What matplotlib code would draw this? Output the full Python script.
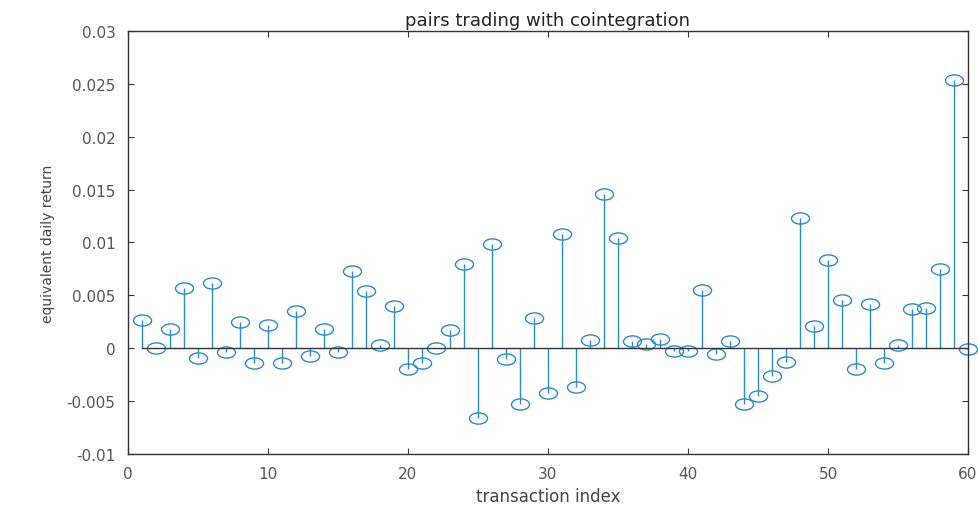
import matplotlib
matplotlib.use("Agg")
import matplotlib.pyplot as plt
from matplotlib.path import Path
from matplotlib.transforms import Affine2D

# transaction index 1..60
idx = list(range(1, 61))
ret = [0.0027, 0.0000, 0.0018, 0.0057, -0.0009, 0.0062, -0.0004, 0.0025, -0.0014, 0.0022,
       -0.0014, 0.0035, -0.0007, 0.0018, -0.0004, 0.0073, 0.0054, 0.0003, 0.0040, -0.0020,
       -0.0014, 0.0000, 0.0017, 0.0080, -0.0066, 0.0099, -0.0010, -0.0053, 0.0029, -0.0042,
       0.0108, -0.0037, 0.0008, 0.0146, 0.0104, 0.0007, 0.0004, 0.0009, -0.0003, -0.0003,
       0.0055, -0.0005, 0.0007, -0.0053, -0.0045, -0.0026, -0.0013, 0.0123, 0.0021, 0.0083,
       0.0046, -0.0020, 0.0042, -0.0014, 0.0003, 0.0037, 0.0038, 0.0075, 0.0254, -0.0001]

xticks = [0, 10, 20, 30, 40, 50, 60]
yticks = [-0.01, -0.005, 0, 0.005, 0.01, 0.015, 0.02, 0.025, 0.03]
ylabels = ["-0.01", "-0.005", "0", "0.005", "0.01", "0.015", "0.02", "0.025", "0.03"]

blue = "#2a8ad4"
ellipse = Path.unit_circle().transformed(Affine2D().scale(1, 0.62))

fig = plt.figure(figsize=(9.79, 5.06), dpi=100)
ax = fig.add_axes([0.1307, 0.1008, 0.8581, 0.836])

ml, sl, bl = ax.stem(idx, ret)
plt.setp(sl, color=blue, linewidth=1.0)
plt.setp(ml, marker=ellipse, markersize=13, markerfacecolor="none",
         markeredgecolor=blue, markeredgewidth=1.0, clip_on=False)
plt.setp(bl, color="#333333", linewidth=1.0)

ax.set_xlim(0, 60)
ax.set_ylim(-0.01, 0.03)
ax.set_xticks(xticks)
ax.set_yticks(yticks)
ax.set_yticklabels(ylabels)
ax.tick_params(direction="in", top=True, right=True, length=4, labelsize=11,
               colors="#333333", labelcolor="#555555", pad=9)
for s in ax.spines.values():
    s.set_color("#333333")
    s.set_linewidth(1.0)

ax.set_title("pairs trading with cointegration", fontsize=13, pad=4, color="#222222")
ax.set_xlabel("transaction index", fontsize=12, color="#444444", labelpad=4)
ax.set_ylabel("equivalent daily return", fontsize=10, color="#444444", labelpad=8)

fig.savefig("out.png", dpi=100)
